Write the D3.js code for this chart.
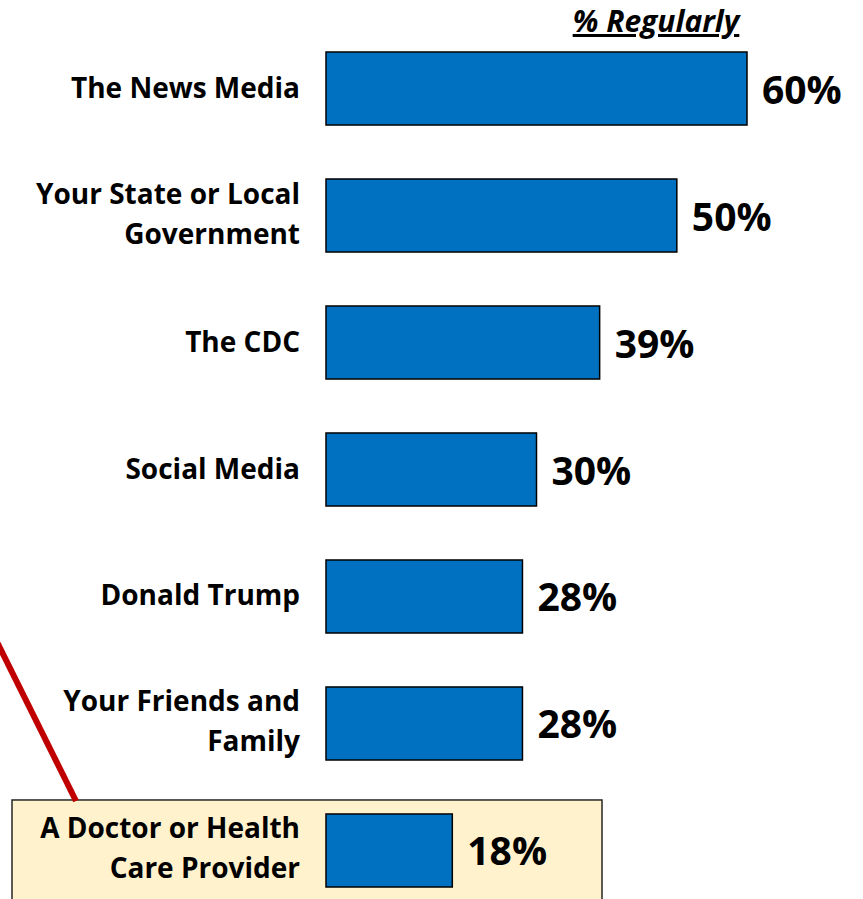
<!DOCTYPE html>
<html>
<head>
<meta charset="utf-8">
<script src="https://cdn.jsdelivr.net/npm/d3@7/dist/d3.min.js"></script>
<style>
  html, body { margin: 0; padding: 0; background: #fff; }
  svg { display: block; }
  text { font-family: "Open Sans", "Noto Sans", sans-serif; font-weight: 700; fill: #000; }
</style>
</head>
<body>
<svg id="chart" width="863" height="899"></svg>
<script>
// Sources people say they regularly turn to
const categories = [
  ["The News Media"],
  ["Your State or Local", "Government"],
  ["The CDC"],
  ["Social Media"],
  ["Donald Trump"],
  ["Your Friends and", "Family"],
  ["A Doctor or Health", "Care Provider"]
];
const values = [60, 50, 39, 30, 28, 28, 18];
const valueLabels = ["60%", "50%", "39%", "30%", "28%", "28%", "18%"];
const columnTitle = "% Regularly";
const highlighted = 6;

const svg = d3.select("#chart");

const x = d3.scaleLinear().domain([0, 60]).range([326, 747]);
const y = d3.scaleBand()
  .domain(d3.range(categories.length))
  .range([52, 887])
  .paddingInner(0.425)
  .paddingOuter(0);

// Callout box behind the highlighted row
const hy = y(highlighted);
svg.append("rect")
  .attr("x", 12).attr("y", hy - 14)
  .attr("width", 590).attr("height", 120)
  .attr("fill", "#FFF2CC")
  .attr("stroke", "#262626").attr("stroke-width", 1.5);

// Pointer line leading to the callout
svg.append("line")
  .attr("x1", -8).attr("y1", hy - 182)
  .attr("x2", 76).attr("y2", hy - 13)
  .attr("stroke", "#C00000").attr("stroke-width", 6);

// Column header
svg.append("text")
  .attr("x", 656).attr("y", 32)
  .attr("text-anchor", "middle")
  .attr("font-size", 30)
  .attr("font-style", "italic")
  .attr("text-decoration", "underline")
  .text(columnTitle);

// Bars
svg.selectAll("rect.bar")
  .data(values)
  .join("rect")
  .attr("class", "bar")
  .attr("x", x(0))
  .attr("y", (d, i) => y(i))
  .attr("width", d => x(d) - x(0))
  .attr("height", y.bandwidth())
  .attr("fill", "#0070C0")
  .attr("stroke", "#000")
  .attr("stroke-width", 1.5);

// Value labels
svg.selectAll("text.value")
  .data(values)
  .join("text")
  .attr("class", "value")
  .attr("x", d => x(d) + 15)
  .attr("y", (d, i) => y(i) + y.bandwidth() / 2 + 15)
  .attr("font-size", 39)
  .text((d, i) => valueLabels[i]);

// Category labels, right aligned against the bars
const cat = svg.selectAll("text.cat")
  .data(categories)
  .join("text")
  .attr("class", "cat")
  .attr("text-anchor", "end")
  .attr("font-size", 28)
  .attr("x", 300)
  .attr("y", (d, i) => y(i) + y.bandwidth() / 2);

cat.selectAll("tspan")
  .data(d => d.map((line, j) => ({ line, j, n: d.length })))
  .join("tspan")
  .attr("x", 300)
  .attr("dy", t => t.j === 0 ? (t.n === 1 ? 9 : -12) : 40)
  .text(t => t.line);
</script>
</body>
</html>
